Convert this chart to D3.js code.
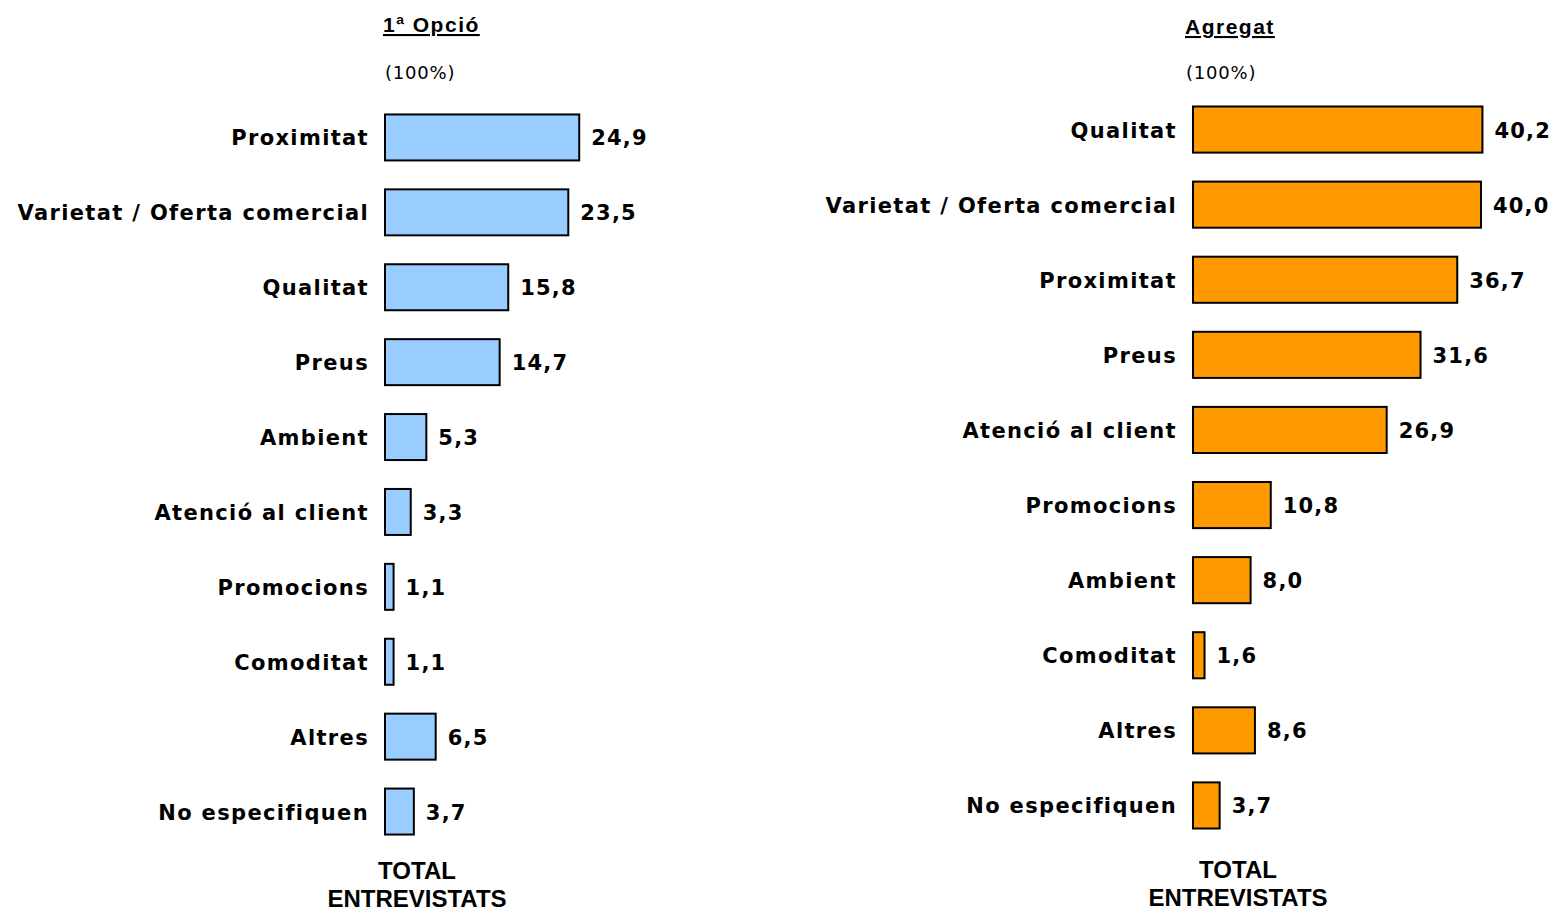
<!DOCTYPE html>
<html>
<head>
<meta charset="utf-8">
<script src="https://cdn.jsdelivr.net/npm/d3@7"></script>
<style>
  html, body { margin: 0; padding: 0; background: #fff; }
  svg { display: block; }
</style>
</head>
<body>
<svg id="chart" width="1553" height="912"></svg>
<script>
// ---- Data ----
const leftTitle = "1ª Opció";
const leftCategories = ["Proximitat", "Varietat / Oferta comercial", "Qualitat", "Preus", "Ambient",
  "Atenció al client", "Promocions", "Comoditat", "Altres", "No especifiquen"];
const leftValues = [24.9, 23.5, 15.8, 14.7, 5.3, 3.3, 1.1, 1.1, 6.5, 3.7];

const rightTitle = "Agregat";
const rightCategories = ["Qualitat", "Varietat / Oferta comercial", "Proximitat", "Preus", "Atenció al client",
  "Promocions", "Ambient", "Comoditat", "Altres", "No especifiquen"];
const rightValues = [40.2, 40.0, 36.7, 31.6, 26.9, 10.8, 8.0, 1.6, 8.6, 3.7];

const baseLabel = "(100%)";
const footerLines = ["TOTAL", "ENTREVISTATS"];

// ---- Drawing ----
const svg = d3.select("#chart");
const fmt = v => d3.format(".1f")(v).replace(".", ",");

function panel(opts) {
  const { categories, values, color, x0, pxPerUnit, yTop, yBottom, title, titleX, footerX, footerY } = opts;
  const x = d3.scaleLinear().domain([0, 50]).range([x0, x0 + 50 * pxPerUnit]);
  const y = d3.scaleBand().domain(categories).range([yTop, yBottom]).paddingInner(0.386).paddingOuter(0.193);
  const g = svg.append("g");

  g.selectAll("rect.bar").data(categories).join("rect")
    .attr("class", "bar")
    .attr("x", x(0))
    .attr("y", d => y(d))
    .attr("width", (d, i) => x(values[i]) - x(0))
    .attr("height", y.bandwidth())
    .attr("fill", color)
    .attr("stroke", "#000")
    .attr("stroke-width", 2);

  g.selectAll("text.cat").data(categories).join("text")
    .attr("class", "cat")
    .attr("x", x(0) - 16)
    .attr("y", d => y(d) + y.bandwidth() / 2 + 8)
    .attr("text-anchor", "end")
    .style("font-family", "'DejaVu Sans', Verdana, sans-serif")
    .style("font-weight", "bold")
    .style("font-size", "21px")
    .style("letter-spacing", "1.35px")
    .text(d => d);

  g.selectAll("text.val").data(categories).join("text")
    .attr("class", "val")
    .attr("x", (d, i) => x(values[i]) + 12)
    .attr("y", d => y(d) + y.bandwidth() / 2 + 8)
    .style("font-family", "'DejaVu Sans', Verdana, sans-serif")
    .style("font-weight", "bold")
    .style("font-size", "21px")
    .style("letter-spacing", "1.2px")
    .text((d, i) => fmt(values[i]));

  g.append("text")
    .attr("x", titleX)
    .attr("y", opts.titleY)
    .style("font-family", "'Liberation Sans', Arial, sans-serif")
    .style("font-weight", "bold")
    .style("font-size", "21px")
    .style("letter-spacing", "1.5px")
    .style("text-decoration", "underline")
    .text(title);

  g.append("text")
    .attr("x", opts.baseX)
    .attr("y", opts.baseY)
    .style("font-family", "'DejaVu Sans', Verdana, sans-serif")
    .style("font-size", "18px")
    .style("letter-spacing", "0.8px")
    .text(baseLabel);

  g.selectAll("text.foot").data(footerLines).join("text")
    .attr("class", "foot")
    .attr("x", footerX)
    .attr("y", (d, i) => footerY + i * 28)
    .attr("text-anchor", "middle")
    .style("font-family", "'Liberation Sans', Arial, sans-serif")
    .style("font-weight", "bold")
    .style("font-size", "24px")
    .text(d => d);
}

panel({ categories: leftCategories, values: leftValues, color: "#99CCFF", x0: 385, pxPerUnit: 7.8,
  yTop: 100, yBottom: 849, title: leftTitle, titleX: 383, titleY: 32, baseX: 385, baseY: 79,
  footerX: 417, footerY: 879 });

panel({ categories: rightCategories, values: rightValues, color: "#FF9900", x0: 1193, pxPerUnit: 7.2,
  yTop: 92, yBottom: 843, title: rightTitle, titleX: 1185, titleY: 34, baseX: 1186, baseY: 79,
  footerX: 1238, footerY: 878 });
</script>
</body>
</html>
